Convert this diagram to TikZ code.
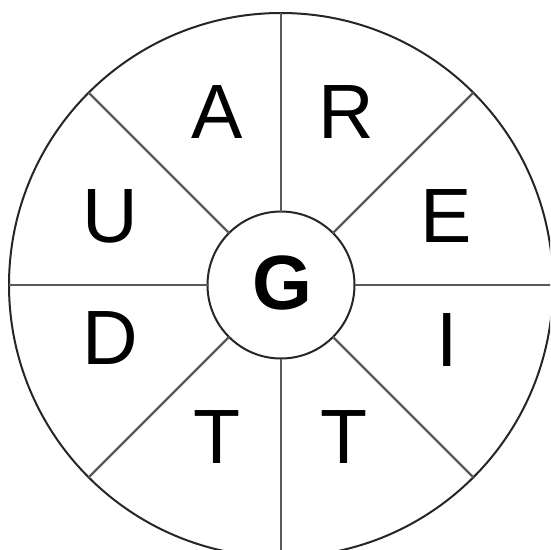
\documentclass[tikz,border=0pt]{standalone}
\usepackage{fontspec}
\setmainfont{Liberation Sans}
\begin{document}
\begin{tikzpicture}[x=1pt,y=-1pt,
  ring/.style={circle,draw=black!85,line width=2pt,inner sep=0pt,outer sep=0pt},
  spoke/.style={draw=black!65,line width=2.2pt},
  letter/.style={inner sep=0pt,font=\fontsize{77}{77}\selectfont}]
\useasboundingbox (0,0) rectangle (550,550);
\clip (0,0) rectangle (550,550);
\node[ring,minimum size=544pt] (outer) at (281,285) {};
\node[ring,minimum size=147pt] (inner) at (281,285) {};
\foreach \a in {0,45,...,315}{
  \draw[spoke] (inner.\a) -- (outer.\a);
}
\node[letter] (lA) at (217,112.5) {A};
\node[letter] (lR) at (346,112.5) {R};
\node[letter] (lU) at (110,216.5) {U};
\node[letter] (lE) at (446.5,216.5) {E};
\node[letter] (lD) at (110,338) {D};
\node[letter] (lI) at (447,340) {I};
\node[letter] (lT1) at (217,437.5) {T};
\node[letter] (lT2) at (344.5,437.5) {T};
\node[letter,font=\fontsize{77}{77}\selectfont\bfseries] (lG) at (282,283) {G};
\end{tikzpicture}
\end{document}
